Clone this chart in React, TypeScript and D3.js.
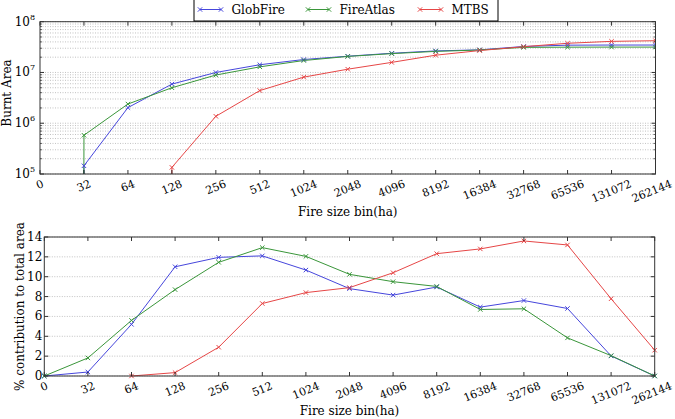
import React from "react";
import * as d3 from "d3";

const categories = ["0","32","64","128","256","512","1024","2048","4096","8192","16384","32768","65536","131072","262144"];

const topGlobFire: (number | null)[] = [0, 1.45e5, 2.03e6, 5.9e6, 1.0e7, 1.42e7, 1.8e7, 2.09e7, 2.39e7, 2.66e7, 2.79e7, 3.25e7, 3.45e7, 3.47e7, 3.47e7];
const topFireAtlas: (number | null)[] = [0, 5.8e5, 2.39e6, 5.0e6, 8.9e6, 1.29e7, 1.72e7, 2.07e7, 2.35e7, 2.6e7, 2.77e7, 3.12e7, 3.15e7, 3.16e7, 3.16e7];
const topMTBS: (number | null)[] = [null, null, 0, 1.35e5, 1.37e6, 4.4e6, 8.1e6, 1.16e7, 1.58e7, 2.19e7, 2.7e7, 3.22e7, 3.76e7, 4.1e7, 4.22e7];

const botGlobFire: (number | null)[] = [0, 0.4, 5.2, 11.0, 11.95, 12.1, 10.67, 8.8, 8.15, 8.96, 6.94, 7.6, 6.8, 2.02, 0];
const botFireAtlas: (number | null)[] = [0, 1.82, 5.6, 8.7, 11.45, 12.93, 12.05, 10.24, 9.5, 9.02, 6.7, 6.77, 3.84, 2.05, 0];
const botMTBS: (number | null)[] = [null, null, 0, 0.34, 2.9, 7.3, 8.4, 8.9, 10.4, 12.32, 12.8, 13.6, 13.2, 7.78, 2.6];

const seriesNames = ["GlobFire", "FireAtlas", "MTBS"];
const seriesColors = ["#4646dc", "#3a963a", "#e64646"];
const botYTicks = [0, 2, 4, 6, 8, 10, 12, 14];
const topYMajor = [5, 6, 7, 8];

const FONT = "DejaVu Serif";
const TICK_FS = 11;
const LABEL_FS = 12;
const ROT = 22;

function XTickLabels({ x, yBase }: { x: (i: number) => number; yBase: number }) {
  const th = (ROT * Math.PI) / 180;
  return (
    <g>
      {categories.map((c, i) => {
        const w = c.length * 0.636 * TICK_FS;
        const h = 1.17 * TICK_FS;
        const H = w * Math.sin(th) + h * Math.cos(th);
        const halfW = (w * Math.cos(th) + 0.75 * TICK_FS * Math.sin(th)) / 2;
        const cx = Math.min(x(i), 673 - halfW);
        const cy = yBase + 3.5 + H / 2;
        return (
          <text key={c} transform={`translate(${cx},${cy}) rotate(${-ROT})`} textAnchor="middle" dominantBaseline="central" fontSize={TICK_FS} fontFamily={FONT} fill="#000">
            {c}
          </text>
        );
      })}
    </g>
  );
}

function Marker({ cx, cy, color }: { cx: number; cy: number; color: string }) {
  const r = 2.2;
  return <path d={`M${cx - r},${cy - r}L${cx + r},${cy + r}M${cx - r},${cy + r}L${cx + r},${cy - r}`} stroke={color} strokeWidth={1} fill="none" />;
}

function TopChart() {
  const L = 40, R = 655.5, T = 21.7, B = 174;
  const x = d3.scaleLinear().domain([0, categories.length - 1]).range([L, R]);
  const y = d3.scaleLog().domain([1e5, 1e8]).range([B, T]);
  const series = [topGlobFire, topFireAtlas, topMTBS];
  const yv = (v: number) => (v > 0 ? y(v) : B + 20000);
  const minor: number[] = [];
  for (let k = 5; k < 8; k++) for (let m = 2; m <= 9; m++) minor.push(m * Math.pow(10, k));
  return (
    <g>
      <defs>
        <clipPath id="clipTop"><rect x={L} y={T} width={R - L} height={B - T} /></clipPath>
      </defs>
      {[...minor, ...topYMajor.map((k) => Math.pow(10, k))].map((v, i) => (
        <line key={"g" + i} x1={L} x2={R} y1={y(v)} y2={y(v)} stroke="#999" strokeWidth={0.6} strokeDasharray="1,1.5" />
      ))}
      <g clipPath="url(#clipTop)">
        {series.map((s, si) => {
          const line = d3.line<number | null>().defined((d) => d != null).x((_, i) => x(i)).y((d) => yv(d as number));
          return <path key={si} d={line(s) || ""} stroke={seriesColors[si]} strokeWidth={1} fill="none" />;
        })}
        {series.map((s, si) =>
          s.map((d, i) => (d != null && d > 0 ? <Marker key={si + "-" + i} cx={x(i)} cy={y(d)} color={seriesColors[si]} /> : null))
        )}
      </g>
      {categories.map((_, i) => (
        <g key={"xt" + i}>
          <line x1={x(i)} x2={x(i)} y1={B} y2={B - 4} stroke="#000" strokeWidth={0.8} />
          <line x1={x(i)} x2={x(i)} y1={T} y2={T + 4} stroke="#000" strokeWidth={0.8} />
        </g>
      ))}
      {topYMajor.map((k) => (
        <g key={"ym" + k}>
          <line x1={L} x2={L + 4} y1={y(Math.pow(10, k))} y2={y(Math.pow(10, k))} stroke="#000" strokeWidth={0.8} />
          <line x1={R} x2={R - 4} y1={y(Math.pow(10, k))} y2={y(Math.pow(10, k))} stroke="#000" strokeWidth={0.8} />
          <text x={L - 5} y={y(Math.pow(10, k))} dominantBaseline="central" textAnchor="end" fontFamily={FONT} fontSize={TICK_FS + 1}>
            10<tspan fontSize={8} dy={-5}>{k}</tspan>
          </text>
        </g>
      ))}
      {minor.map((v, i) => (
        <g key={"yn" + i}>
          <line x1={L} x2={L + 2} y1={y(v)} y2={y(v)} stroke="#000" strokeWidth={0.6} />
          <line x1={R} x2={R - 2} y1={y(v)} y2={y(v)} stroke="#000" strokeWidth={0.6} />
        </g>
      ))}
      <rect x={L} y={T} width={R - L} height={B - T} fill="none" stroke="#333" strokeWidth={1} />
      <XTickLabels x={x} yBase={B} />
      <text x={(L + R) / 2} y={216} textAnchor="middle" fontFamily={FONT} fontSize={LABEL_FS}>Fire size bin(ha)</text>
      <text transform={`translate(11,93) rotate(-90)`} textAnchor="middle" fontFamily={FONT} fontSize={LABEL_FS}>Burnt Area</text>
    </g>
  );
}

function BottomChart() {
  const L = 44.3, R = 654.7, T = 237, B = 376;
  const x = d3.scaleLinear().domain([0, categories.length - 1]).range([L, R]);
  const y = d3.scaleLinear().domain([0, 14]).range([B, T]);
  const series = [botGlobFire, botFireAtlas, botMTBS];
  return (
    <g>
      {botYTicks.map((v) => (
        <line key={"g" + v} x1={L} x2={R} y1={y(v)} y2={y(v)} stroke="#999" strokeWidth={0.6} strokeDasharray="1,1.5" />
      ))}
      {series.map((s, si) => {
        const line = d3.line<number | null>().defined((d) => d != null).x((_, i) => x(i)).y((d) => y(d as number));
        return <path key={si} d={line(s) || ""} stroke={seriesColors[si]} strokeWidth={1} fill="none" />;
      })}
      {series.map((s, si) =>
        s.map((d, i) => (d != null ? <Marker key={si + "-" + i} cx={x(i)} cy={y(d)} color={seriesColors[si]} /> : null))
      )}
      {categories.map((_, i) => (
        <g key={"xt" + i}>
          <line x1={x(i)} x2={x(i)} y1={B} y2={B - 4} stroke="#000" strokeWidth={0.8} />
          <line x1={x(i)} x2={x(i)} y1={T} y2={T + 4} stroke="#000" strokeWidth={0.8} />
        </g>
      ))}
      {botYTicks.map((v) => (
        <g key={"yt" + v}>
          <line x1={L} x2={L + 4} y1={y(v)} y2={y(v)} stroke="#000" strokeWidth={0.8} />
          <line x1={R} x2={R - 4} y1={y(v)} y2={y(v)} stroke="#000" strokeWidth={0.8} />
          <text x={L - 2} y={y(v)} dominantBaseline="central" textAnchor="end" fontFamily={FONT} fontSize={TICK_FS + 1}>{v}</text>
        </g>
      ))}
      <rect x={L} y={T} width={R - L} height={B - T} fill="none" stroke="#333" strokeWidth={1} />
      <XTickLabels x={x} yBase={B} />
      <text x={(L + R) / 2} y={415} textAnchor="middle" fontFamily={FONT} fontSize={LABEL_FS}>Fire size bin(ha)</text>
      <text transform={`translate(24,${(T + B) / 2}) rotate(-90)`} textAnchor="middle" fontFamily={FONT} fontSize={LABEL_FS}>% contribution to total area</text>
    </g>
  );
}

function Legend() {
  const starts = [200, 308, 420];
  return (
    <g>
      <rect x={194} y={-2} width={304} height={23} fill="#fff" stroke="#000" strokeWidth={1} />
      {seriesNames.map((n, i) => (
        <g key={n}>
          <line x1={starts[i]} x2={starts[i] + 21} y1={9.5} y2={9.5} stroke={seriesColors[i]} strokeWidth={1} />
          <Marker cx={starts[i]} cy={9.5} color={seriesColors[i]} />
          <Marker cx={starts[i] + 21} cy={9.5} color={seriesColors[i]} />
          <text x={starts[i] + 31.5} y={14} fontFamily={FONT} fontSize={LABEL_FS}>{n}</text>
        </g>
      ))}
    </g>
  );
}

export default function App() {
  return (
    <svg width={675} height={419} style={{ position: "absolute", left: 0, top: 0, background: "#fff" }}>
      <rect width={675} height={419} fill="#fff" />
      <TopChart />
      <BottomChart />
      <Legend />
    </svg>
  );
}
